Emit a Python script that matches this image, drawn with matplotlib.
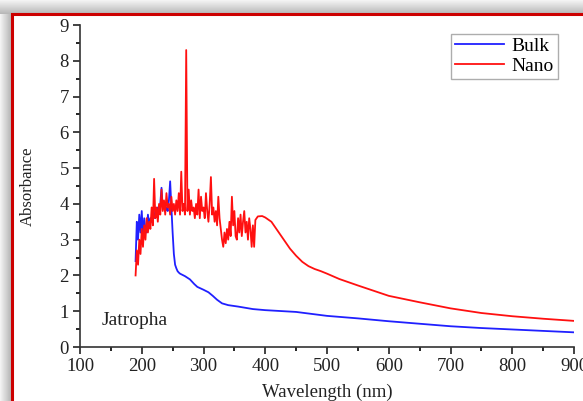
import numpy as np
import matplotlib.pyplot as plt
from matplotlib.patches import Rectangle

# Bulk: noisy part (2 nm steps) then smooth tail
bulk_noise_wl = np.arange(190, 264, 2)
bulk_noise_abs = [2.4, 3.5, 3.0, 3.7, 3.2, 3.8, 3.1, 3.6, 3.3, 3.2,
                  3.7, 3.4, 3.6, 3.5, 3.7, 3.6, 3.8, 3.7, 3.9, 3.8,
                  4.0, 4.45, 3.9, 4.0, 3.8, 3.9, 3.8, 4.1, 4.63, 3.9,
                  3.2, 2.6, 2.3, 2.2, 2.12, 2.08, 2.05]
bulk_tail_wl = [270, 278, 285, 290, 300, 308, 315, 322, 330, 340, 356,
                380, 400, 450, 500, 550, 600, 650, 700, 750, 800, 850, 900]
bulk_tail_abs = [1.98, 1.89, 1.76, 1.68, 1.6, 1.53, 1.43, 1.32, 1.22, 1.17, 1.13,
                 1.06, 1.03, 0.98, 0.87, 0.8, 0.72, 0.65, 0.58, 0.53, 0.49, 0.45, 0.41]

# Nano: noisy part (2 nm steps) then smooth tail
nano_noise_wl = np.arange(190, 390, 2)
nano_noise_abs = [2.0, 2.7, 2.3, 3.0, 2.6, 3.3, 2.8, 3.4, 3.0, 3.6,
                  3.2, 3.5, 3.3, 3.9, 3.4, 4.7, 3.6, 3.9, 3.5, 4.0,
                  3.7, 4.4, 3.8, 4.1, 3.7, 4.3, 3.9, 4.0, 3.7, 4.2,
                  3.8, 4.0, 3.7, 4.1, 3.8, 4.3, 3.7, 4.9, 3.8, 4.0,
                  3.7, 8.3, 3.8, 4.4, 3.7, 4.1, 3.8, 3.9, 3.6, 4.0,
                  3.7, 4.4, 3.6, 4.2, 3.8, 3.9, 3.6, 4.3, 3.8, 3.5,
                  4.0, 4.75, 3.7, 3.9, 3.5, 3.8, 3.4, 4.2, 3.6, 3.3,
                  3.0, 2.8, 3.2, 2.9, 3.3, 3.0, 3.5, 3.1, 4.2, 3.4,
                  3.8, 3.1, 3.0, 3.6, 3.2, 3.7, 3.1, 3.5, 3.8, 3.2,
                  3.5, 3.0, 3.6, 3.3, 2.8, 3.4, 2.8, 3.55, 3.6, 3.65]
nano_tail_wl = [395, 400, 410, 420, 430, 440, 450, 460, 470, 480, 490, 500,
                520, 550, 600, 650, 700, 750, 800, 850, 900]
nano_tail_abs = [3.66, 3.62, 3.5, 3.25, 3.0, 2.75, 2.55, 2.38, 2.26, 2.18, 2.12, 2.05,
                 1.9, 1.72, 1.43, 1.25, 1.08, 0.95, 0.86, 0.79, 0.73]

plt.rcParams['font.family'] = ['Liberation Serif', 'DejaVu Serif']

fig = plt.figure(figsize=(5.83, 4.01), dpi=100)

# shaded frame behind the chart (gray gradient top/left, red border)
bg = fig.add_axes([0, 0, 1, 1], zorder=-20)
shade = np.ones((401, 583))
top = np.linspace(0.95, 0.72, 14)
shade[:14, :] = top[:, None]
left = np.linspace(0.95, 0.70, 12)
shade[14:, :12] = left[None, :]
bg.imshow(shade, cmap='gray', vmin=0, vmax=1, aspect='auto', interpolation='bilinear')
bg.axis('off')
fig.patches.append(Rectangle((12 / 583, -0.1), 1.1, (401 - 14) / 401 + 0.1,
                             transform=fig.transFigure, facecolor='white',
                             edgecolor='#cc0000', linewidth=2.2, zorder=-10))

ax = fig.add_axes([80 / 583, 54 / 401, 494 / 583, 322 / 401])
ax.set_facecolor('none')

bulk_wl = np.concatenate([bulk_noise_wl, bulk_tail_wl])
bulk_abs = np.concatenate([bulk_noise_abs, bulk_tail_abs])
nano_wl = np.concatenate([nano_noise_wl, nano_tail_wl])
nano_abs = np.concatenate([nano_noise_abs, nano_tail_abs])

ax.plot(bulk_wl, bulk_abs, color='#2020ff', lw=1.3, label='Bulk')
ax.plot(nano_wl, nano_abs, color='#ff1010', lw=1.3, label='Nano')

ax.set_xlim(100, 900)
ax.set_ylim(0, 9)
ax.set_xticks(range(100, 901, 100))
ax.set_xticks(range(150, 900, 100), minor=True)
ax.set_yticks(range(0, 10))
ax.set_yticks(np.arange(0.5, 9, 1), minor=True)
ax.tick_params(direction='out', labelsize=13.5, length=5, width=1.2,
               colors='#222222', pad=3)
ax.tick_params(which='minor', direction='out', length=3, width=1.2)
ax.spines['top'].set_visible(False)
ax.spines['right'].set_visible(False)
for s in ['left', 'bottom']:
    ax.spines[s].set_color('#333333')
    ax.spines[s].set_linewidth(1.2)

ax.set_xlabel('Wavelength (nm)', fontsize=13.5, labelpad=6, color='#222222')
ax.set_ylabel('Absorbance', fontsize=12, labelpad=17, color='#222222')
ax.text(135, 0.75, 'Jatropha', fontsize=14, va='center', ha='left', color='#222222')

leg = ax.legend(loc='upper right', bbox_to_anchor=(0.975, 0.985), fontsize=14,
                fancybox=False, edgecolor='#999999', handlelength=2.5,
                borderpad=0.2, labelspacing=0.12, handletextpad=0.4,
                borderaxespad=0.2)
leg.get_frame().set_linewidth(1)

fig.savefig('out.png', dpi=100)
